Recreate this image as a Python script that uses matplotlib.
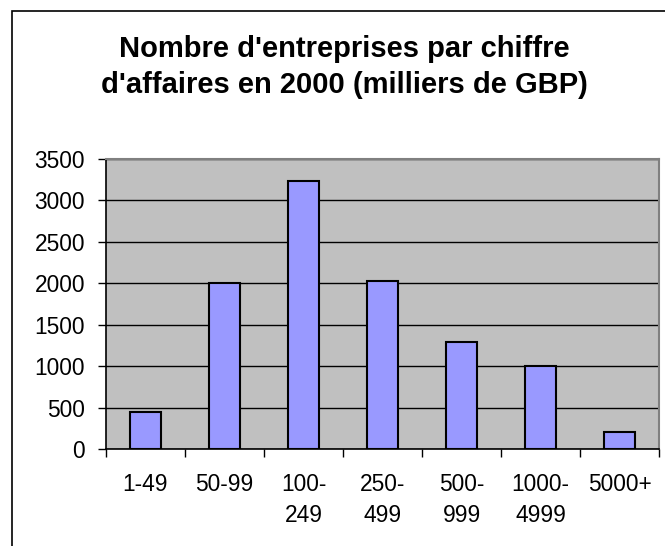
import matplotlib
matplotlib.use("Agg")
import matplotlib.pyplot as plt
from matplotlib.patches import Rectangle
import numpy as np

categories = ["1-49", "50-99", "100-\n249", "250-\n499", "500-\n999", "1000-\n4999", "5000+"]
values = [450, 2000, 3240, 2030, 1290, 1000, 200]
yticks = [0, 500, 1000, 1500, 2000, 2500, 3000, 3500]
title_lines = ["Nombre d'entreprises par chiffre", "d'affaires en 2000 (milliers de GBP)"]

plt.rcParams['font.family'] = ['Liberation Sans', 'DejaVu Sans']

W, H = 665, 546
fig = plt.figure(figsize=(W / 100, H / 100), dpi=100)

# outer chart frame
fig.patches.append(Rectangle((12 / W, -0.1), 1.2, (H - 11) / H + 0.1, transform=fig.transFigure,
                             fill=False, edgecolor='black', linewidth=1.2))

left, right, top, bottom = 106, 659, 159, 449
ax = fig.add_axes([left / W, (H - bottom) / H, (right - left) / W, (bottom - top) / H])
ax.set_facecolor('#C0C0C0')

x = np.arange(len(categories))
ax.bar(x, values, width=0.4, color='#9999FF', edgecolor='black', linewidth=1.5, zorder=3)

ax.set_xlim(-0.5, len(categories) - 0.5)
ax.set_ylim(0, 3500)
ax.set_yticks(yticks)
ax.set_yticklabels([str(v) for v in yticks], fontsize=16.4)
ax.yaxis.grid(True, color='black', linewidth=1.0, zorder=1)
ax.set_axisbelow(True)

ax.set_xticks(x)
ax.set_xticklabels(categories, fontsize=16.4, linespacing=1.45, va='top')
ax.set_xticks(np.arange(len(categories) + 1) - 0.5, minor=True)
ax.tick_params(axis='x', which='major', length=0, pad=17)
ax.tick_params(axis='x', which='minor', length=6, width=1.0, direction='out')
ax.tick_params(axis='y', length=6, width=1.0, direction='out', pad=9)

for s in ['top', 'right']:
    ax.spines[s].set_color('#808080')
    ax.spines[s].set_linewidth(1.5)
for s in ['left', 'bottom']:
    ax.spines[s].set_color('black')
    ax.spines[s].set_linewidth(1.2)

for line, ybase in zip(title_lines, [57, 93]):
    fig.text(344 / W, 1 - ybase / H, line, ha='center', va='baseline', fontsize=21,
             fontweight='bold')

fig.savefig("out.png", dpi=100, facecolor='white')
